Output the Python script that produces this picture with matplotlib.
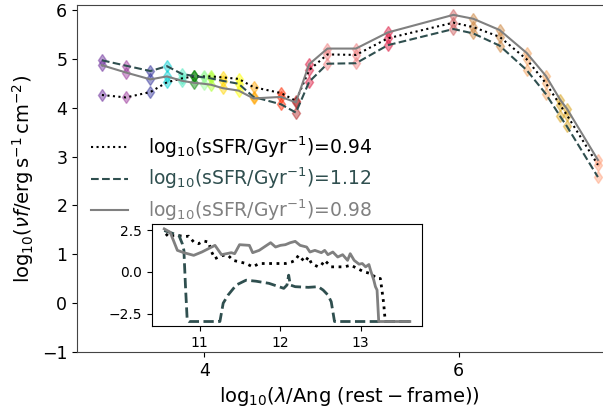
import matplotlib
matplotlib.use('Agg')
from matplotlib import pyplot as plt

# photometric bands (log10 of rest-frame wavelength in Angstrom)
log_wave = [3.196, 3.384, 3.577, 3.707, 3.825, 3.917, 3.995, 4.053, 4.145, 4.270,
            4.388, 4.603, 4.721, 4.825, 4.969, 5.193, 5.444, 5.959, 6.115, 6.322,
            6.535, 6.686, 6.799, 6.851, 7.095]
band_colors = ['#6a2a99', '#993399', '#30309a', 'darkturquoise', '#50e8c0', 'green',
               'palegreen', 'greenyellow', 'gold', 'yellow', 'orange', '#ff2a00',
               'firebrick', 'crimson', 'lightcoral', 'lightcoral', 'crimson', 'indianred',
               'peru', 'peru', 'sandybrown', 'sandybrown', 'goldenrod', 'goldenrod',
               'lightsalmon']

# model SEDs, log10(nu f)
sed_094 = [4.26, 4.21, 4.32, 4.52, 4.60, 4.64, 4.64, 4.64, 4.62, 4.59, 4.42, 4.30,
           4.14, 4.77, 5.09, 5.08, 5.42, 5.74, 5.65, 5.45, 4.99, 4.50, 4.05, 3.85, 2.83]
sed_112 = [4.97, 4.86, 4.75, 4.85, 4.69, 4.65, 4.62, 4.60, 4.55, 4.49, 4.22, 4.07,
           3.90, 4.53, 4.90, 4.91, 5.28, 5.61, 5.52, 5.27, 4.77, 4.28, 3.82, 3.62, 2.58]
sed_098 = [4.87, 4.72, 4.58, 4.64, 4.55, 4.51, 4.49, 4.47, 4.40, 4.35, 4.19, 4.22,
           4.11, 4.89, 5.21, 5.21, 5.54, 5.90, 5.82, 5.59, 5.12, 4.65, 4.16, 3.98, 2.93]
ssfr = [0.94, 1.12, 0.98]

# star formation histories for the inset
sfh_x_094 = [10.581, 10.622, 10.663, 10.724, 10.825, 10.866, 10.927, 10.988, 11.049,
             11.110, 11.150, 11.191, 11.232, 11.293, 11.354, 11.415, 11.496, 11.577,
             11.659, 11.740, 11.821, 11.902, 11.984, 12.065, 12.146, 12.187, 12.228,
             12.268, 12.309, 12.350, 12.390, 12.431, 12.472, 12.512, 12.553, 12.593,
             12.634, 12.715, 12.797, 12.878, 12.959, 13.041, 13.122, 13.203, 13.244,
             13.264, 13.285, 13.305, 13.610]
sfh_y_094 = [2.28, 2.08, 2.18, 2.18, 2.12, 2.14, 1.79, 1.69, 1.85, 1.79, 1.19, 0.79,
             0.89, 0.99, 0.99, 0.69, 0.60, 0.50, 0.30, 0.50, 0.50, 0.50, 0.50, 0.50,
             0.60, 0.69, 0.99, 0.79, 0.60, 0.89, 0.50, 0.40, 0.30, 0.40, 0.69, 0.50,
             0.30, 0.30, 0.30, 0.40, 0.20, 0.00, -0.10, -0.40, -0.40, -1.09, -1.88,
             -2.98, -2.98]
sfh_x_112 = [10.561, 10.683, 10.744, 10.785, 10.805, 10.825, 10.846, 10.866, 11.252,
             11.293, 11.354, 11.455, 11.577, 11.699, 11.862, 11.984, 12.045, 12.085,
             12.106, 12.126, 12.187, 12.350, 12.472, 12.533, 12.593, 12.634, 12.675,
             13.610]
sfh_y_112 = [2.48, 2.28, 2.18, 1.69, 1.29, -0.89, -2.88, -2.98, -2.98, -1.88, -1.39,
             -0.79, -0.50, -0.56, -0.69, -0.89, -0.99, -0.79, -0.20, -0.79, -0.89,
             -0.93, -0.89, -1.09, -1.39, -1.79, -2.98, -2.98]
sfh_x_098 = [10.561, 10.634, 10.683, 10.724, 10.805, 10.927, 11.028, 11.191, 11.272,
             11.394, 11.435, 11.496, 11.618, 11.659, 11.740, 11.882, 11.943, 12.004,
             12.065, 12.126, 12.187, 12.248, 12.329, 12.370, 12.431, 12.512, 12.553,
             12.593, 12.654, 12.715, 12.776, 12.837, 12.870, 12.919, 12.980, 13.020,
             13.061, 13.102, 13.122, 13.163, 13.183, 13.203, 13.224, 13.285, 13.610]
sfh_y_098 = [2.58, 2.38, 1.79, 1.29, 1.15, 0.99, 1.19, 1.59, 1.03, 1.15, 1.09, 1.63,
             1.59, 1.15, 1.29, 1.75, 1.49, 1.59, 1.63, 1.75, 1.83, 1.59, 1.49, 1.19,
             1.29, 1.15, 1.29, 1.03, 1.19, 0.89, 1.03, 0.69, 1.09, 0.69, 0.46, 0.50,
             0.30, 0.44, 0.10, -0.50, -0.89, -1.09, -2.98, -2.98, -2.98]

styles = [dict(color='black', ls=':', lw=1.5),
          dict(color='darkslategray', ls='--', lw=1.5),
          dict(color='gray', ls='-', lw=1.5)]

fig = plt.figure(figsize=(6.03, 4.16), dpi=100)
ax = fig.add_axes([0.1277, 0.1538, 0.905, 0.834])

lines = []
for sed, s, st in zip([sed_094, sed_112, sed_098], ssfr, styles):
    for x, y, c in zip(log_wave, sed, band_colors):
        ax.plot(x, y, 'd', color=c, alpha=0.45, ms=6, zorder=1)
    l, = ax.plot(log_wave, sed, zorder=2,
                 label=r'$\mathrm{log}_{10}(\mathrm{sSFR/Gyr^{-1}})$=%.2f' % s, **st)
    lines.append(l)

ax.set_xlim(3.0, 7.29)
ax.set_ylim(-1, 6.1)
ax.set_xticks([4, 6])
ax.set_yticks(range(-1, 7))
ax.tick_params(labelsize=12.5)
for sp in ax.spines.values():
    sp.set_color('#444444')
ax.set_xlabel(r'$\mathrm{log}_{10}(\lambda/\mathrm{Ang\ (rest-frame)})$', fontsize=14)
ax.set_ylabel(r'$\mathrm{log}_{10}(\nu f/\mathrm{erg\,s^{-1}\,cm^{-2}})$', fontsize=14)

leg = ax.legend(loc='upper left', bbox_to_anchor=(-0.006, 0.676), frameon=False,
                fontsize=13.5, handlelength=2.0, handletextpad=1.05, labelspacing=0.32)
for txt, l in zip(leg.get_texts(), lines):
    txt.set_color(l.get_color())

ins = fig.add_axes([0.252, 0.216, 0.448, 0.245])
ins.plot(sfh_x_094, sfh_y_094, color='black', ls=':', lw=2)
ins.plot(sfh_x_112, sfh_y_112, color='darkslategray', ls='--', lw=2)
ins.plot(sfh_x_098, sfh_y_098, color='gray', ls='-', lw=2)
ins.set_xticks([11, 12, 13])
ins.set_yticks([-2.5, 0.0, 2.5])
ins.tick_params(labelsize=10)

plt.savefig('out.png')
plt.close()
